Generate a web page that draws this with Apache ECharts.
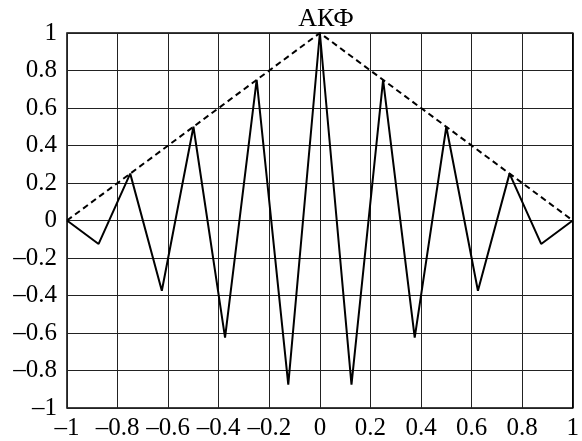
<!DOCTYPE html>
<html>
<head>
<meta charset="utf-8">
<script src="https://cdn.jsdelivr.net/npm/echarts@6/dist/echarts.min.js"></script>
<style>html,body{margin:0;padding:0;background:#fff}#c{width:582px;height:441px}</style>
</head>
<body>
<div id="c"></div>
<script>
var lags = [-1, -0.875, -0.75, -0.625, -0.5, -0.375, -0.25, -0.125, 0, 0.125, 0.25, 0.375, 0.5, 0.625, 0.75, 0.875, 1];
var acf = [0, -0.125, 0.25, -0.375, 0.5, -0.625, 0.75, -0.875, 1, -0.875, 0.75, -0.625, 0.5, -0.375, 0.25, -0.125, 0];
var envX = [-1, 0, 1];
var envY = [0, 1, 0];
var title = 'АКФ';

function fmt(v) {
  var s = String(Math.round(v * 10) / 10);
  return s.replace('-', '\u2013');
}
var font = 'Liberation Serif';
var chart = echarts.init(document.getElementById('c'), null, {renderer: 'canvas'});
chart.setOption({
  animation: false,
  backgroundColor: '#fff',
  title: {
    text: title, left: 321, top: 1, textAlign: 'center',
    textStyle: {fontFamily: font, fontSize: 26, fontWeight: 'normal', color: '#000'}
  },
  grid: {left: 67, right: 6, top: 33, bottom: 32, show: true, borderColor: '#000', borderWidth: 1.5, containLabel: false},
  xAxis: {
    type: 'value', min: -1, max: 1, interval: 0.2,
    axisLine: {show: false}, axisTick: {show: false},
    splitLine: {show: true, lineStyle: {color: '#222', width: 1}},
    axisLabel: {formatter: fmt, color: '#000', fontFamily: font, fontSize: 25, margin: 8}
  },
  yAxis: {
    type: 'value', min: -1, max: 1, interval: 0.2,
    axisLine: {show: false}, axisTick: {show: false},
    splitLine: {show: true, lineStyle: {color: '#222', width: 1}},
    axisLabel: {formatter: fmt, color: '#000', fontFamily: font, fontSize: 25, margin: 10}
  },
  series: [
    {
      type: 'line', data: lags.map(function (x, i) { return [x, acf[i]]; }),
      symbol: 'none', lineStyle: {color: '#000', width: 2}
    },
    {
      type: 'line', data: envX.map(function (x, i) { return [x, envY[i]]; }),
      symbol: 'none', lineStyle: {color: '#000', width: 2, type: [6, 4]}
    }
  ]
});
</script>
</body>
</html>
